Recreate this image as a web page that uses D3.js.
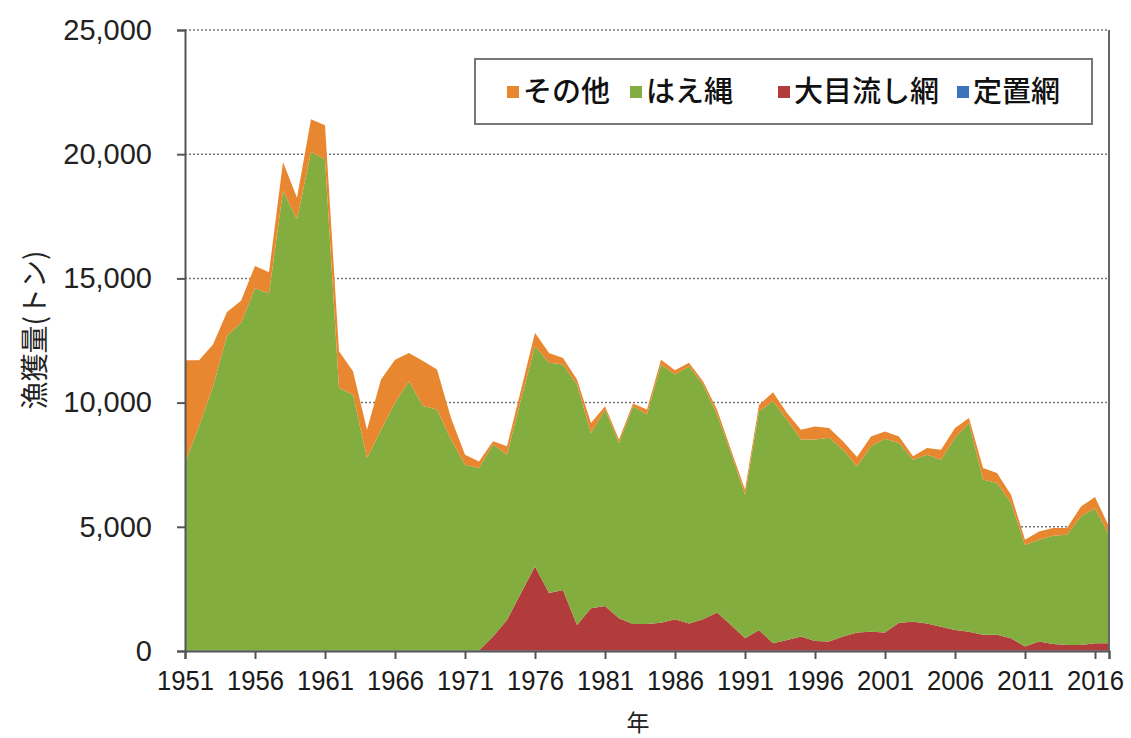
<!DOCTYPE html>
<html><head><meta charset="utf-8">
<script src="https://cdn.jsdelivr.net/npm/d3@7/dist/d3.min.js"></script>
<style>
html,body{margin:0;padding:0;background:#fff;}
svg{display:block;}
</style></head>
<body>
<svg id="chart" width="1131" height="738"></svg>
<script>
const years = d3.range(1951, 2018);
const seriesNames = ["定置網", "大目流し網", "はえ縄", "その他"];
const seriesColors = ["#3b73bd", "#b23b3c", "#84ad3f", "#e8872f"];
const legendOrder = ["その他", "はえ縄", "大目流し網", "定置網"];
const yTicks = [0, 5000, 10000, 15000, 20000, 25000];
const xTickYears = [1951,1956,1961,1966,1971,1976,1981,1986,1991,1996,2001,2006,2011,2016];

const teichi = [20,20,20,20,20,20,20,20,20,20,20,20,20,20,20,20,20,20,20,20,20,20,
  20,20,20,20,20,20,20,20,20,20,20,20,20,20,20,20,20,20,20,20,20,20,20,20,20,20,20,20,
  20,20,20,20,20,20,20,20,20,20,20,20,20,20,20,20,20];
const oome = [0,0,0,0,0,0,0,0,0,0,0,0,0,0,0,0,0,0,0,0,0,0,
  560,1230,2310,3380,2310,2440,1030,1700,1790,1300,1070,1070,1120,1260,1090,1260,1530,1030,490,830,
  290,420,560,380,360,560,720,760,720,1120,1160,1090,960,830,760,630,630,490,160,360,260,220,220,290,290];
const haenawa = [7560,9030,10630,12680,13180,14580,14370,18500,17360,20070,19780,10570,10300,7750,8880,9970,10840,9840,9700,8490,7480,7350,
  7730,6650,7790,8870,9270,9070,9680,7060,7910,7050,8760,8430,10390,9850,10350,9450,7970,6920,5780,8800,
  9740,8870,7930,8110,8200,7520,6690,7460,7800,7230,6520,6790,6720,7730,8400,6250,6110,5450,4090,4100,4360,4440,5180,5440,4370];
const sonota = [4120,2650,1690,950,900,900,860,1170,870,1320,1370,1480,940,1140,2030,1740,1140,1810,1610,870,400,260,
  130,340,400,540,400,270,200,400,130,140,110,200,200,170,140,130,200,130,200,250,
  370,270,400,530,400,340,380,400,300,270,140,270,400,400,200,470,410,330,210,330,310,270,400,450,330];

const seriesValues = [teichi, oome, haenawa, sonota];
const table = years.map((yr, i) => {
  const row = {year: yr};
  seriesNames.forEach((n, k) => row[n] = seriesValues[k][i]);
  return row;
});

const svg = d3.select("#chart");
const mLeft = 185, mRight = 1109, mTop = 30, mBottom = 651;
const x = d3.scaleLinear().domain([1951, 2017]).range([mLeft, mRight]);
const y = d3.scaleLinear().domain([0, 25000]).range([mBottom, mTop]);

// gridlines
svg.append("g").selectAll("line").data(yTicks.filter(d => d > 0)).join("line")
  .attr("x1", mLeft).attr("x2", mRight)
  .attr("y1", d => y(d)).attr("y2", d => y(d))
  .attr("stroke", "#777").attr("stroke-width", 1.5).attr("stroke-dasharray", "2,2");

// stacked areas
const stack = d3.stack().keys(seriesNames);
const stacked = stack(table);
const area = d3.area()
  .x(d => x(d.data.year))
  .y0(d => y(d[0]))
  .y1(d => y(d[1]));
svg.append("g").selectAll("path").data(stacked).join("path")
  .attr("d", area)
  .attr("fill", (d, i) => seriesColors[i]);

// right border
svg.append("line").attr("x1", mRight).attr("x2", mRight).attr("y1", mTop).attr("y2", mBottom)
  .attr("stroke", "#666").attr("stroke-width", 2);

// y axis
const yAxis = d3.axisLeft(y).tickValues(yTicks).tickSize(8).tickPadding(25)
  .tickFormat(d3.format(","));
const gy = svg.append("g").attr("transform", `translate(${mLeft},0)`).call(yAxis);
gy.select(".domain").attr("stroke", "#555").attr("stroke-width", 2);
gy.selectAll(".tick line").attr("stroke", "#555").attr("stroke-width", 2);
gy.selectAll(".tick text").attr("font-family", "Liberation Sans, Arial, sans-serif")
  .attr("font-size", 29).attr("fill", "#222");

// x axis
const xAxis = d3.axisBottom(x).tickValues(xTickYears.concat([2017])).tickSize(8).tickPadding(11)
  .tickFormat(d => xTickYears.includes(d) ? String(d) : "");
const gx = svg.append("g").attr("transform", `translate(0,${mBottom})`).call(xAxis);
gx.select(".domain").attr("stroke", "#555").attr("stroke-width", 2);
gx.selectAll(".tick line").attr("stroke", "#555").attr("stroke-width", 2);
gx.selectAll(".tick text").attr("font-family", "Liberation Sans, Arial, sans-serif")
  .attr("font-size", 28).attr("fill", "#1a1a1a")
  .attr("textLength", d => xTickYears.includes(d) ? 57 : null)
  .attr("lengthAdjust", "spacingAndGlyphs");

// axis titles
svg.append("text")
  .attr("transform", "translate(45,330) rotate(-90)")
  .attr("text-anchor", "middle")
  .attr("font-family", "Noto Sans CJK JP, sans-serif")
  .attr("font-size", 28).attr("fill", "#222")
  .text("漁獲量(トン)");
svg.append("text")
  .attr("x", 638).attr("y", 731)
  .attr("text-anchor", "middle")
  .attr("font-family", "Noto Sans CJK JP, sans-serif")
  .attr("font-size", 23).attr("fill", "#222")
  .text("年");

// legend
const lg = svg.append("g");
lg.append("rect").attr("x", 475).attr("y", 59).attr("width", 617).attr("height", 65)
  .attr("fill", "#fff").attr("stroke", "#777").attr("stroke-width", 2);
const legendX = [507, 630, 778, 957];
legendOrder.forEach((name, i) => {
  const k = seriesNames.indexOf(name);
  lg.append("rect").attr("x", legendX[i]).attr("y", 86).attr("width", 12).attr("height", 12)
    .attr("fill", seriesColors[k]);
  lg.append("text").attr("x", legendX[i] + 16).attr("y", 102)
    .attr("font-family", "Noto Sans CJK JP, sans-serif")
    .attr("font-size", 29).attr("font-weight", 500).attr("fill", "#111")
    .text(name);
});
</script>
</body></html>
